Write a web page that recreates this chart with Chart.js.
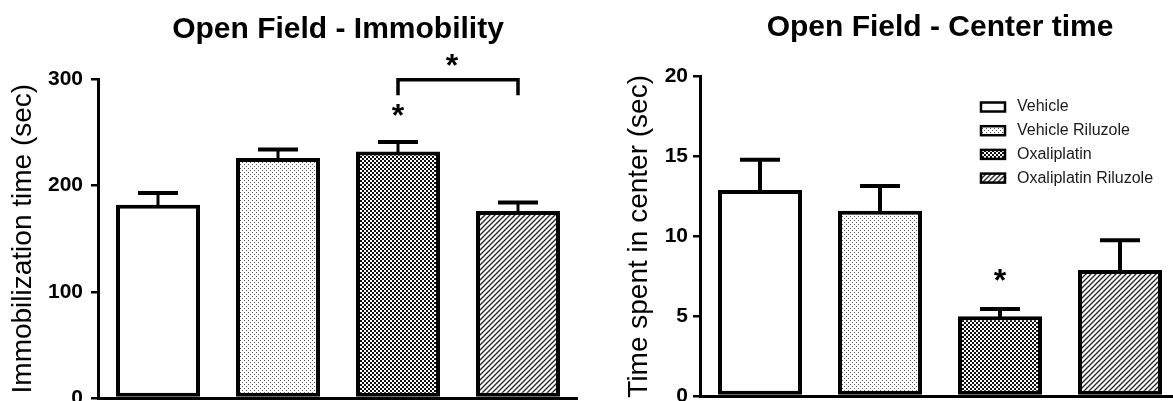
<!DOCTYPE html>
<html><head><meta charset="utf-8">
<script src="https://cdn.jsdelivr.net/npm/chart.js@4.4.1/dist/chart.umd.min.js"></script>
<style>
html,body{margin:0;padding:0;background:#fff;overflow:hidden}
#wrap{position:relative;width:1173px;height:401px;overflow:hidden;background:#fff}
canvas{position:absolute;top:0}
#c1{left:0;width:578px;height:440px}
#c2{left:610px;width:570px;height:440px}
</style></head><body>
<div id="wrap"><canvas id="c1" width="578" height="440"></canvas><canvas id="c2" width="570" height="440"></canvas></div>
<script>
// ---------- data ----------
const categories = ['Vehicle', 'Vehicle Riluzole', 'Oxaliplatin', 'Oxaliplatin Riluzole'];

const immobilityMean = [182, 226, 232, 176];
const immobilitySEM  = [11, 8, 9, 8];
const immobilityTicks = [0, 100, 200, 300];

const centerMean = [12.9, 11.6, 5.0, 7.9];
const centerSEM  = [1.9, 1.55, 0.45, 1.85];
const centerTicks = [0, 5, 10, 15, 20];

// significance marks (category index, value)
const immobilityStars = [{cat: 2, y: 271}, {cat: 2.45, y: 318}];
const immobilityBracket = {from: 2, to: 3, y: 299.5, end: 285};
const centerStars = [{cat: 2, y: 7.6}];

// ---------- styles ----------
Chart.defaults.font.family = "'Liberation Sans', Arial, Helvetica, sans-serif";
Chart.defaults.color = '#000';

function makeFill(kind) {
  if (kind === 'blank') return '#ffffff';
  const t = document.createElement('canvas');
  const g = t.getContext('2d');
  if (kind === 'stipple') {
    t.width = 4; t.height = 4;
    g.fillStyle = '#fff'; g.fillRect(0, 0, 4, 4);
    g.fillStyle = '#5a5a5a'; g.fillRect(0, 0, 1, 1); g.fillRect(2, 2, 1, 1);
  } else if (kind === 'checker') {
    t.width = 4; t.height = 4;
    g.fillStyle = '#fff'; g.fillRect(0, 0, 4, 4);
    g.fillStyle = '#111'; g.fillRect(0, 0, 2, 2); g.fillRect(2, 2, 2, 2);
  } else if (kind === 'hatch') {
    t.width = 5; t.height = 5;
    g.fillStyle = '#fff'; g.fillRect(0, 0, 5, 5);
    g.strokeStyle = '#2a2a2a'; g.lineWidth = 1.4;
    g.beginPath();
    g.moveTo(-1, 6); g.lineTo(6, -1);
    g.moveTo(-1, 1); g.lineTo(1, -1);
    g.moveTo(4, 6); g.lineTo(6, 4);
    g.stroke();
  }
  return g.createPattern(t, 'repeat');
}
const fills = ['blank', 'stipple', 'checker', 'hatch'].map(makeFill);

function errorBarPlugin(sem, stem) {
  return {
    id: 'errorBars',
    afterDatasetsDraw(chart) {
      const ctx = chart.ctx, ys = chart.scales.y;
      const meta = chart.getDatasetMeta(0);
      const means = chart.data.datasets[0].data;
      ctx.save();
      ctx.strokeStyle = '#000';
      ctx.lineCap = 'butt';
      meta.data.forEach((bar, i) => {
        const yTop = ys.getPixelForValue(means[i] + sem[i]);
        ctx.lineWidth = stem;
        ctx.beginPath(); ctx.moveTo(bar.x, bar.y + 2); ctx.lineTo(bar.x, yTop); ctx.stroke();
        ctx.lineWidth = 4;
        ctx.beginPath(); ctx.moveTo(bar.x - 20, yTop); ctx.lineTo(bar.x + 20, yTop); ctx.stroke();
      });
      ctx.restore();
    }
  };
}

function sigPlugin(stars, bracket) {
  return {
    id: 'sigMarks',
    afterDatasetsDraw(chart) {
      const ctx = chart.ctx, xs = chart.scales.x, ys = chart.scales.y;
      ctx.save();
      ctx.fillStyle = '#000';
      ctx.font = "bold 32px 'Liberation Sans', Arial, sans-serif";
      ctx.textAlign = 'center';
      ctx.textBaseline = 'alphabetic';
      const m = ctx.measureText('*');
      const off = (m.actualBoundingBoxAscent - m.actualBoundingBoxDescent) / 2;
      stars.forEach(s => {
        ctx.fillText('*', xs.getPixelForValue(s.cat), ys.getPixelForValue(s.y) + off);
      });
      if (bracket) {
        const x1 = xs.getPixelForValue(bracket.from), x2 = xs.getPixelForValue(bracket.to);
        const y = ys.getPixelForValue(bracket.y), ye = ys.getPixelForValue(bracket.end);
        ctx.strokeStyle = '#000';
        ctx.lineWidth = 3.5;
        ctx.lineJoin = 'miter';
        ctx.beginPath();
        ctx.moveTo(x1, ye); ctx.lineTo(x1, y); ctx.lineTo(x2, y); ctx.lineTo(x2, ye);
        ctx.stroke();
      }
      ctx.restore();
    }
  };
}

const legendPlugin = {
  id: 'boxLegend',
  afterDraw(chart) {
    const ctx = chart.ctx;
    const bg = chart.data.datasets[0].backgroundColor;
    const x0 = 981 - 610, y0 = 107, step = 23.7;
    ctx.save();
    ctx.font = "16px 'Liberation Sans', Arial, sans-serif";
    ctx.textBaseline = 'middle';
    ctx.textAlign = 'left';
    chart.data.labels.forEach((lab, i) => {
      const cy = y0 + i * step;
      ctx.fillStyle = bg[i];
      ctx.fillRect(x0, cy - 4.5, 24, 9);
      ctx.strokeStyle = '#000';
      ctx.lineWidth = 2.5;
      ctx.strokeRect(x0, cy - 4.5, 24, 9);
      ctx.fillStyle = '#1a1a1a';
      ctx.fillText(lab, x0 + 36, cy);
    });
    ctx.restore();
  }
};

function makeChart(id, cfg) {
  return new Chart(document.getElementById(id), {
    type: 'bar',
    data: {
      labels: categories,
      datasets: [{
        data: cfg.values,
        backgroundColor: fills,
        borderColor: '#000',
        borderWidth: 4,
        borderSkipped: false,
        barPercentage: 0.7,
        categoryPercentage: 1.0
      }]
    },
    options: {
      responsive: false,
      animation: false,
      devicePixelRatio: 1,
      layout: {padding: 0},
      plugins: {
        legend: {display: false},
        tooltip: {enabled: false},
        title: {
          display: true, text: cfg.title, fullSize: false,
          font: {size: 30, weight: 'bold'}, color: '#000',
          padding: {top: cfg.titleTop, bottom: cfg.titleBottom}
        }
      },
      scales: {
        x: {
          grid: {display: false},
          ticks: {display: false},
          border: {display: true, color: '#000', width: 3},
          afterFit: s => { s.height = cfg.xHeight; }
        },
        y: {
          min: cfg.ticks[0], max: cfg.ticks[cfg.ticks.length - 1],
          afterBuildTicks: s => { s.ticks = cfg.ticks.map(v => ({value: v})); },
          afterFit: s => { s.width = cfg.yWidth; },
          grid: {drawOnChartArea: false, drawTicks: true, tickLength: 7, color: '#000', lineWidth: 2.5},
          border: {display: true, color: '#000', width: 3},
          ticks: {font: {size: 21, weight: 'bold'}, color: '#000', padding: cfg.tickPad},
          title: {display: true, text: cfg.yTitle, font: {size: 28}, color: '#000',
                  padding: {top: cfg.yTitlePad, bottom: 0}}
        }
      }
    },
    plugins: cfg.plugins
  });
}

makeChart('c1', {
  values: immobilityMean, ticks: immobilityTicks,
  title: 'Open Field - Immobility', yTitle: 'Immobilization time (sec)',
  titleTop: 12, titleBottom: 31.3, xHeight: 42, yWidth: 98, tickPad: 8, yTitlePad: 6,
  plugins: [errorBarPlugin(immobilitySEM, 3), sigPlugin(immobilityStars, immobilityBracket)]
});

makeChart('c2', {
  values: centerMean, ticks: centerTicks,
  title: 'Open Field - Center time', yTitle: 'Time spent in center (sec)',
  titleTop: 10, titleBottom: 30.7, xHeight: 44, yWidth: 90, tickPad: 5, yTitlePad: 12,
  plugins: [errorBarPlugin(centerSEM, 4), sigPlugin(centerStars, null), legendPlugin]
});
</script>
</body></html>
